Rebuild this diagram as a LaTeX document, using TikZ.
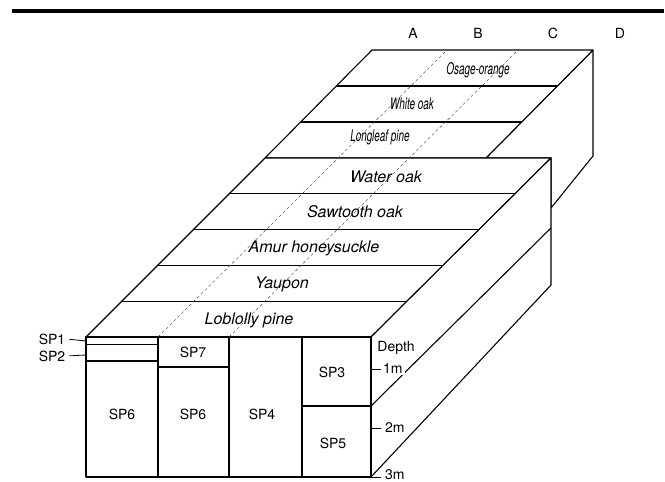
\documentclass[tikz,border=0pt]{standalone}
\usepackage{fontspec}
\setmainfont{TeX Gyre Heros}
\usetikzlibrary{calc,positioning}
\tikzset{%
   edge/.style={line width=1.1pt, line join=round},
   face/.style={edge, fill=white},
   thin edge/.style={line width=.8pt},
   guide/.style={line width=.4pt, dash pattern=on 3pt off 2.5pt, black!75},
   lab/.style={font=\fontsize{14}{16}\selectfont, inner sep=1pt},
   strip/.style={font=\fontsize{16}{18}\selectfont\itshape, inner sep=0pt},
   farstrip/.style={strip, xscale=.62},
}

\begin{document}
\begin{tikzpicture}[x=1pt, y=-1pt]
  \useasboundingbox (0,0) rectangle (665,482);
  % rule across the top
  \draw[line width=4pt] (12,11) -- (664,11);

  % back block
  \coordinate (bk-bl) at (372,50);
  \coordinate (bk-br) at (593,50);
  \coordinate (bk-fl) at (265,158);
  \coordinate (bk-fr) at (486,158);
  \coordinate (bk-lo) at (593,156);
  \coordinate (bk-jn) at (551,208);
  % front block
  \coordinate (tp-bl) at (265,158);
  \coordinate (tp-br) at (551,158);
  \coordinate (tp-fl) at (86,337);
  \coordinate (tp-fr) at (371,337);
  \coordinate (rt-bb) at (551,285);
  \coordinate (fr-bl) at (86,477);
  \coordinate (fr-br) at (371,477);

  \draw[face] (bk-br) -- (bk-lo) -- (bk-jn) -- (tp-br) -- (bk-fr) -- cycle;
  \draw[face] (bk-bl) -- (bk-br) -- (bk-fr) -- (bk-fl) -- cycle;
  \foreach \k in {1,2}
    \draw[edge] ($(bk-bl)!\k/3!(bk-fl)$) -- ($(bk-br)!\k/3!(bk-fr)$);

  \draw[face] (tp-bl) -- (tp-br) -- (tp-fr) -- (tp-fl) -- cycle;
  \foreach \k in {1,...,4}
    \draw[edge] ($(tp-bl)!\k/5!(tp-fl)$) -- ($(tp-br)!\k/5!(tp-fr)$);
  \draw[face] (tp-fr) -- (tp-br) -- (rt-bb) -- (fr-br) -- cycle;
  \draw[edge] (371,406) -- (551,228);

  % front face, split into the soil profiles
  \draw[face] (tp-fl) rectangle (fr-br);
  \foreach \x in {158,229,302}
    \draw[edge] (\x,337) -- (\x,477);
  \draw[thin edge] (86,344) -- (158,344);
  \draw[edge] (86,361) -- (158,361);
  \draw[edge] (158,367) -- (229,367);
  \draw[edge] (302,406) -- (371,406);

  % sampling lines
  \foreach \f/\b in {158/447, 229/518}
    \draw[guide] (\f,337) -- (\b,50);

  % species strips
  \foreach \txt/\x/\y [count=\i] in {Osage-orange/478/70, White oak/412/104,
      Longleaf pine/380/137}
    \node[farstrip] (back\i) at (\x,\y) {\txt};
  \foreach \txt/\x/\y [count=\i] in {Water oak/386/177, Sawtooth oak/355/212,
      Amur honeysuckle/314/248, Yaupon/282/284, Loblolly pine/249/320}
    \node[strip] (front\i) at (\x,\y) {\txt};

  \foreach \c/\x in {A/413, B/478, C/553, D/620}
    \node[lab] (col\c) at (\x,33) {\c};

  \node[lab] (sp6a) at (122,414) {SP6};
  \node[lab] (sp7) at (193,352) {SP7};
  \node[lab] (sp6b) at (193,414) {SP6};
  \node[lab] (sp4) at (262,414) {SP4};
  \node[lab] (sp3) at (332,372) {SP3};
  \node[lab] (sp5) at (333,443) {SP5};

  \node[lab] (sp1) at (52,339) {SP1};
  \node[lab] (sp2) at (52,356) {SP2};
  \coordinate (sp1-end) at (86,341);
  \coordinate (sp2-end) at (86,355);
  \draw[thin edge, shorten <=3pt] (sp1.east) -- (sp1-end);
  \draw[thin edge, shorten <=3pt] (sp2.east) -- (sp2-end);

  % depth scale
  \node[lab] (depth) at (396,348) {Depth};
  \coordinate (d1) at (371,369);
  \coordinate (d2) at (371,428);
  \coordinate (d3) at (371,477);
  \foreach \i in {1,2,3}
    \draw[thin edge] (d\i) -- ++(10,0) coordinate (t\i);
  \node[lab, fill=white, inner xsep=2pt, right=0pt of t1] (m1) {1m};
  \node[lab, right=3pt of t2] (m2) {2m};
  \node[lab, right=3pt of t3, yshift=2pt] (m3) {3m};
\end{tikzpicture}
\end{document}
